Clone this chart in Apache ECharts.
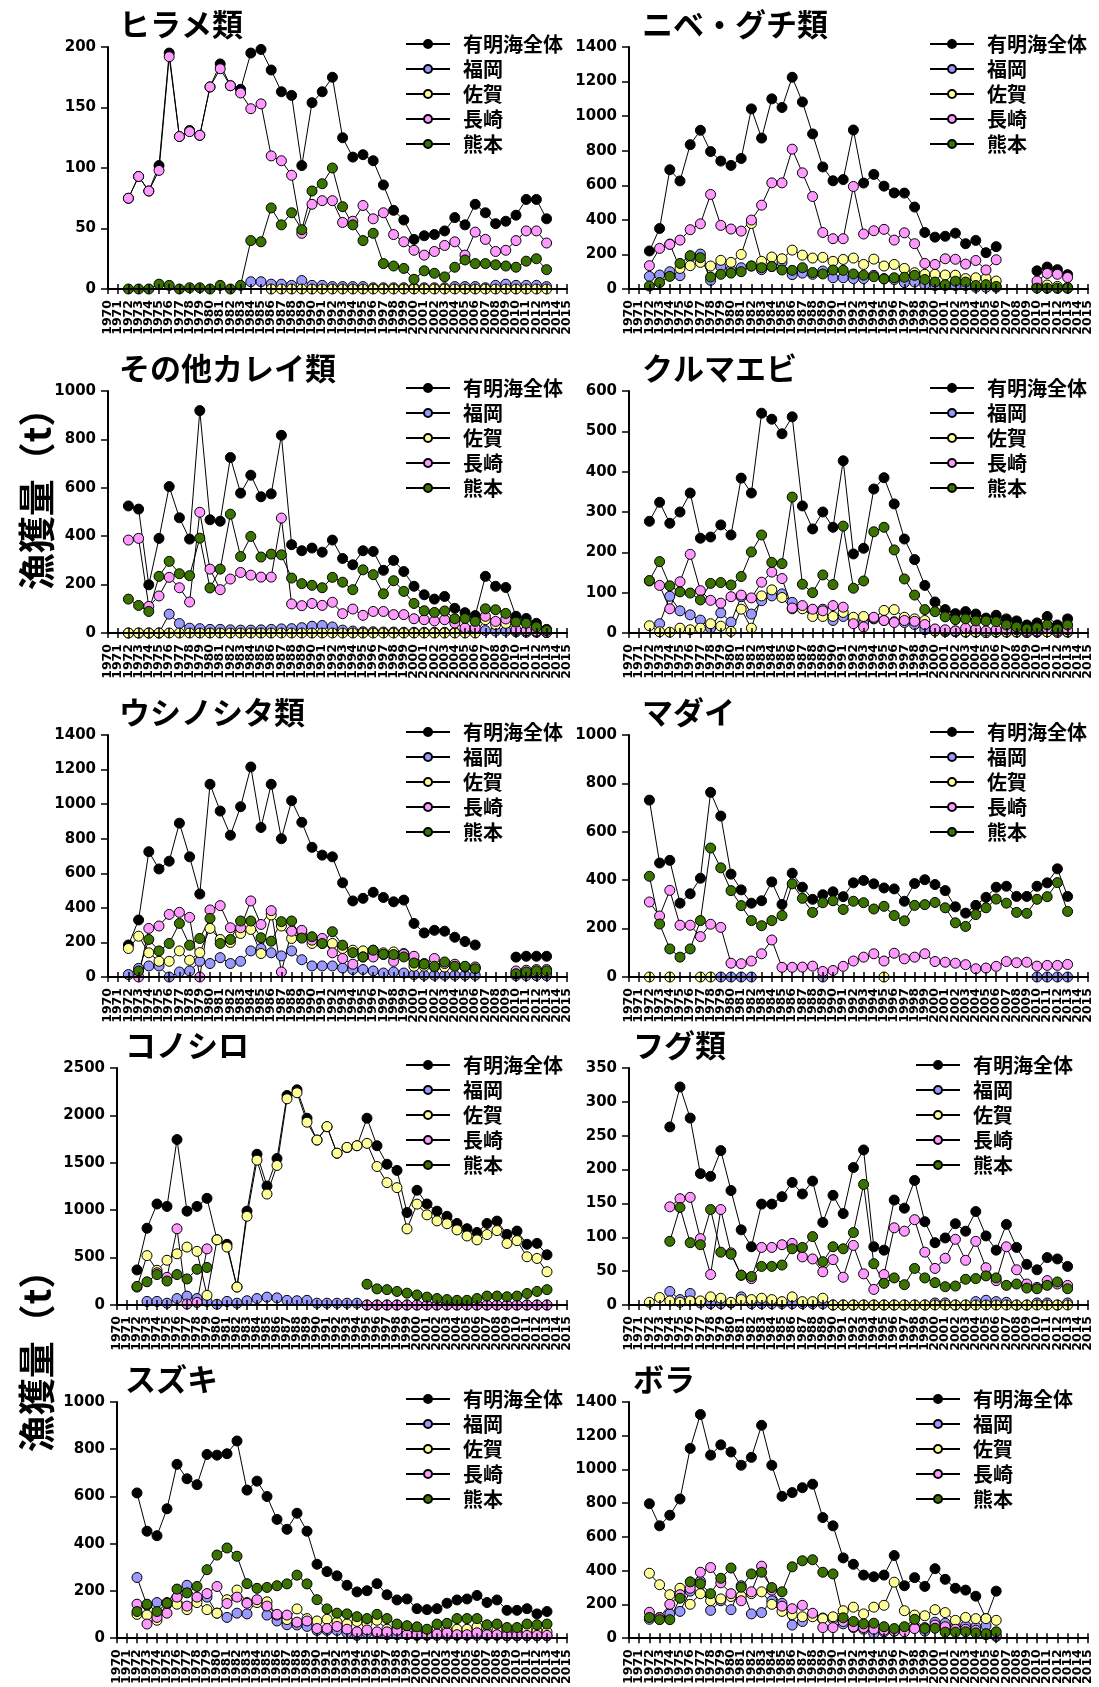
<!DOCTYPE html>
<html><head><meta charset="utf-8">
<script src="https://cdn.jsdelivr.net/npm/echarts@6/dist/echarts.min.js"></script>
<style>html,body{margin:0;padding:0;background:#fff}#c{width:1099px;height:1687px}</style>
</head><body><div id="c"></div>
<script>
const years = ['1970','1971','1972','1973','1974','1975','1976','1977','1978','1979','1980','1981','1982','1983','1984','1985','1986','1987','1988','1989','1990','1991','1992','1993','1994','1995','1996','1997','1998','1999','2000','2001','2002','2003','2004','2005','2006','2007','2008','2009','2010','2011','2012','2013','2014','2015'];
const seriesNames = ['有明海全体','福岡','佐賀','長崎','熊本'];
const N = null;
// values 1972..2013
const hirameTotal = [75,93,81,102,195,126,131,127,167,186,168,165,195,198,181,163,160,102,154,163,175,125,109,111,106,86,65,57,41,44,45,48,59,53,70,63,54,56,61,74,74,58];
const hirameFukuoka = [N,N,N,N,N,N,N,N,N,N,N,N,6,6,4,4,3,7,3,3,2,2,2,2,1,1,1,1,1,1,1,1,2,2,2,1,3,4,3,3,3,2];
const hirameSaga = [N,N,N,N,N,N,N,N,N,N,N,N,N,N,0,0,0,0,0,0,0,0,0,0,0,0,0,0,0,0,0,0,0,0,0,0,0,0,0,0,0,0];
const hirameNagasaki = [75,93,81,98,192,126,130,127,167,182,168,162,149,153,110,106,94,46,70,73,73,55,56,69,58,63,45,39,32,28,31,36,39,28,47,41,31,32,40,48,48,38];
const hirameKumamoto = [0,0,0,4,3,0,1,1,0,3,0,3,40,39,67,53,63,49,81,87,100,68,53,40,46,21,19,17,8,15,13,10,18,24,21,21,20,19,18,23,25,16];

const nibeTotal = [220,350,690,625,835,918,795,740,715,755,1042,873,1100,1050,1225,1082,897,706,626,633,920,613,663,595,556,555,474,327,300,305,323,262,281,210,245,N,N,N,105,127,112,83];
const nibeFukuoka = [73,81,100,77,183,202,50,129,110,123,133,112,130,154,83,92,85,104,65,65,60,60,79,60,55,37,40,25,20,20,20,20,10,10,10,N,N,N,10,5,5,5];
const nibeSaga = [N,N,260,119,135,154,133,166,154,200,379,160,185,175,225,196,179,183,160,171,179,142,173,133,142,119,94,85,85,81,80,60,65,62,46,N,N,N,15,23,15,10];
const nibeNagasaki = [135,235,258,283,343,377,547,368,347,335,399,485,614,614,809,672,535,327,291,291,593,318,337,345,283,325,262,148,142,175,172,144,165,110,169,N,N,N,46,90,85,67];
const nibeKumamoto = [17,37,73,148,193,181,69,85,92,100,133,123,130,110,108,123,95,87,110,108,87,80,71,58,65,68,79,55,40,25,45,40,20,25,15,N,N,N,5,5,5,5];

const kareiTotal = [525,512,199,391,605,476,388,919,468,462,725,578,652,563,575,817,365,340,351,334,384,308,282,340,337,259,300,254,193,158,140,151,102,84,72,234,193,188,69,60,40,15];
const kareiFukuoka = [0,0,0,0,78,39,20,18,15,15,13,12,12,13,15,17,18,22,28,31,25,12,8,5,5,4,4,3,3,3,3,3,3,3,3,10,8,8,5,3,3,2];
const kareiSaga = [0,0,0,0,0,0,0,0,0,0,0,0,0,0,0,0,0,0,0,0,0,0,0,0,0,0,0,0,0,0,0,0,0,0,0,55,35,40,10,8,5,2];
const kareiNagasaki = [384,391,110,153,230,187,128,499,264,179,223,250,239,231,231,475,120,113,122,114,127,80,99,73,89,89,76,76,59,55,50,55,41,21,21,69,48,58,14,10,8,3];
const kareiKumamoto = [140,114,89,234,296,245,237,392,186,264,491,316,399,314,326,323,227,204,197,187,230,210,179,261,241,162,216,172,122,92,85,91,59,60,48,100,96,81,45,40,25,10];

const kurumaTotal = [277,324,272,300,347,235,238,268,243,384,347,545,530,494,536,315,258,300,262,427,196,210,357,385,320,233,182,118,77,58,48,53,47,37,44,35,30,20,25,41,20,35];
const kurumaFukuoka = [N,23,91,55,45,32,12,50,27,90,47,80,92,97,76,62,57,59,31,41,25,25,35,31,28,26,21,8,5,3,3,2,2,1,2,2,2,1,2,3,2,2];
const kurumaSaga = [18,3,2,12,8,12,23,17,4,59,12,92,107,88,60,60,41,41,41,51,39,41,37,56,58,39,35,31,5,5,5,3,3,1,3,3,3,2,3,3,2,3];
const kurumaNagasaki = [129,118,60,127,195,105,81,74,90,94,87,126,151,135,62,68,59,55,68,64,23,15,39,31,26,31,29,21,10,8,5,12,10,5,8,8,8,5,5,12,5,8];
const kurumaKumamoto = [130,177,117,102,99,82,123,125,119,140,201,243,175,172,337,121,100,144,120,265,111,129,251,262,206,134,94,58,53,40,33,35,30,30,28,20,15,10,13,20,10,20];

const ushiTotal = [185,330,725,625,670,890,695,480,1115,960,820,985,1215,865,1115,800,1020,895,750,705,695,545,440,455,490,460,435,445,310,255,270,265,230,205,185,N,N,N,115,120,120,120];
const ushiFukuoka = [14,50,64,64,0,29,35,91,78,112,78,91,151,165,140,122,151,100,64,64,64,52,43,43,35,23,29,23,14,10,10,10,10,10,10,N,N,N,8,8,8,8];
const ushiSaga = [165,236,140,91,91,151,97,141,281,217,200,252,275,136,359,295,223,260,194,194,194,165,155,151,155,140,145,136,62,62,58,58,68,58,52,N,N,N,19,23,23,23];
const ushiNagasaki = [N,0,281,295,362,374,345,0,388,413,285,285,440,304,384,29,265,270,213,223,140,107,74,116,116,130,91,132,120,78,107,78,74,58,58,N,N,N,35,39,43,43];
const ushiKumamoto = [N,35,217,151,194,310,184,223,339,194,217,324,324,227,207,320,324,225,233,194,262,184,141,116,155,132,130,116,81,74,62,87,62,62,48,N,N,N,19,29,35,35];

const madaiTotal = [731,471,482,305,344,408,763,665,425,360,305,315,393,300,429,371,321,340,352,332,389,399,385,368,364,313,386,402,382,357,290,264,296,329,371,375,333,333,375,389,447,333];
const madaiFukuoka = [N,N,N,N,N,N,N,0,0,0,0,N,N,N,N,N,N,0,N,N,N,N,N,N,N,N,N,N,N,N,N,N,N,N,N,N,N,N,0,0,0,0];
const madaiSaga = [0,N,0,N,N,0,0,N,N,N,N,N,N,N,N,N,N,N,N,N,N,N,N,0,N,N,N,N,N,N,N,N,N,N,N,N,N,N,N,N,N,N];
const madaiNagasaki = [310,252,358,214,214,167,218,205,57,55,66,96,153,40,40,41,45,23,27,44,66,82,96,66,98,75,82,96,64,61,57,51,34,37,44,64,59,61,45,48,48,52];
const madaiKumamoto = [416,219,116,82,116,233,533,451,357,295,233,212,233,254,385,325,267,307,315,279,313,307,281,292,254,232,296,299,308,286,224,209,258,286,322,305,267,263,321,332,390,271];

const konoTotal = [370,810,1065,1040,1745,990,1040,1125,690,640,190,990,1590,1255,1545,2210,2270,1970,1740,1880,1600,1660,1680,1970,1680,1485,1420,975,1210,1065,990,935,860,805,765,860,885,745,780,640,650,530];
const konoFukuoka = [N,38,38,19,68,94,68,38,8,38,19,45,68,83,75,49,45,49,19,19,19,19,19,0,0,0,0,0,0,0,0,0,0,0,0,0,0,0,0,0,0,0];
const konoSaga = [189,521,366,472,540,611,566,102,687,611,189,936,1528,1170,1472,2175,2239,1928,1740,1882,1602,1663,1680,1705,1461,1291,1238,803,1064,951,887,857,792,728,687,743,785,649,679,509,491,351];
const konoNagasaki = [N,N,340,291,804,10,27,592,N,N,N,N,N,N,N,N,N,N,N,N,N,N,N,0,0,0,0,0,0,0,0,0,0,0,0,0,0,0,0,0,0,0];
const konoKumamoto = [196,245,321,253,321,275,377,396,N,N,N,N,N,N,N,N,N,N,N,N,N,N,N,219,170,162,143,125,106,83,68,57,49,49,68,94,94,87,94,121,143,162];

const fuguTotal = [N,N,263,322,276,194,190,228,169,111,86,149,149,160,181,164,183,122,162,135,203,229,86,81,155,143,184,123,92,99,120,109,138,102,81,119,85,60,52,70,68,57];
const fuguFukuoka = [N,N,20,8,17,3,2,2,3,12,2,2,2,2,2,2,2,2,0,0,0,0,0,0,0,0,0,0,3,3,0,0,5,7,5,4,0,0,3,3,0,3];
const fuguSaga = [4,11,6,4,6,6,12,10,4,8,8,10,8,5,12,5,5,10,0,0,0,0,0,0,0,0,0,0,0,0,0,0,0,0,0,0,0,0,0,0,0,0];
const fuguNagasaki = [N,N,145,157,159,98,45,141,77,44,39,85,85,89,91,71,68,49,67,41,88,46,23,45,114,109,126,78,54,69,97,66,94,55,36,86,52,31,26,36,31,29];
const fuguKumamoto = [N,N,94,144,92,89,141,78,75,44,42,57,57,59,83,85,101,64,86,83,107,178,61,32,40,30,54,40,33,27,28,38,39,43,40,29,31,25,24,29,34,24];

const suzukiTotal = [615,453,434,548,736,675,650,778,775,781,835,627,665,600,503,461,529,453,313,282,264,224,196,201,231,184,162,166,125,121,125,148,162,166,181,151,162,118,118,125,103,113];
const suzukiFukuoka = [257,140,151,148,174,224,166,174,106,88,106,103,159,98,73,57,56,50,33,33,33,23,12,23,20,15,15,15,12,12,12,12,12,12,12,12,12,10,10,10,10,10];
const suzukiSaga = [101,98,76,151,144,121,151,121,106,163,204,151,151,154,98,79,124,83,73,80,68,60,71,63,76,38,38,33,23,23,33,33,38,38,48,23,33,23,23,33,30,27];
const suzukiNagasaki = [144,60,88,106,174,136,174,189,219,147,174,148,163,136,101,98,68,73,41,41,50,38,27,35,27,27,33,15,15,15,18,23,15,15,23,15,15,12,12,12,12,12];
const suzukiKumamoto = [113,144,113,148,208,192,219,290,352,382,347,231,211,215,222,230,267,230,163,124,106,103,91,83,101,83,60,53,48,38,60,63,83,83,83,57,60,45,45,60,57,60];

const boraTotal = [797,666,729,825,1125,1326,1085,1146,1104,1025,1072,1262,1025,841,863,892,913,715,666,476,438,374,364,374,490,311,359,307,412,349,296,285,249,116,279,N,N,N,N,N,N,N];
const boraFukuoka = [112,123,144,159,279,338,165,222,169,311,144,152,222,207,78,99,142,120,112,85,63,53,27,38,42,53,63,42,95,89,68,74,68,74,10,N,N,N,N,N,N,N];
const boraSaga = [385,317,258,296,201,264,222,233,247,249,264,275,201,159,140,127,127,116,127,163,184,144,184,195,332,163,137,133,169,152,106,123,116,116,106,N,N,N,N,N,N,N];
const boraNagasaki = [154,121,201,258,296,391,419,328,264,222,275,427,285,190,175,195,148,63,63,99,68,63,53,47,42,38,57,63,78,68,53,53,47,21,17,N,N,N,N,N,N,N];
const boraKumamoto = [123,110,110,237,334,323,264,355,416,302,381,391,300,275,423,459,465,391,381,121,99,85,89,68,57,68,112,57,59,36,36,38,32,27,38,N,N,N,N,N,N,N];

const panels = [
  {title:'ヒラメ類', max:200, interval:50, data:[hirameTotal,hirameFukuoka,hirameSaga,hirameNagasaki,hirameKumamoto]},
  {title:'ニベ・グチ類', max:1400, interval:200, data:[nibeTotal,nibeFukuoka,nibeSaga,nibeNagasaki,nibeKumamoto]},
  {title:'その他カレイ類', max:1000, interval:200, data:[kareiTotal,kareiFukuoka,kareiSaga,kareiNagasaki,kareiKumamoto]},
  {title:'クルマエビ', max:600, interval:100, data:[kurumaTotal,kurumaFukuoka,kurumaSaga,kurumaNagasaki,kurumaKumamoto]},
  {title:'ウシノシタ類', max:1400, interval:200, data:[ushiTotal,ushiFukuoka,ushiSaga,ushiNagasaki,ushiKumamoto]},
  {title:'マダイ', max:1000, interval:200, data:[madaiTotal,madaiFukuoka,madaiSaga,madaiNagasaki,madaiKumamoto]},
  {title:'コノシロ', max:2500, interval:500, data:[konoTotal,konoFukuoka,konoSaga,konoNagasaki,konoKumamoto]},
  {title:'フグ類', max:350, interval:50, data:[fuguTotal,fuguFukuoka,fuguSaga,fuguNagasaki,fuguKumamoto]},
  {title:'スズキ', max:1000, interval:200, data:[suzukiTotal,suzukiFukuoka,suzukiSaga,suzukiNagasaki,suzukiKumamoto]},
  {title:'ボラ', max:1400, interval:200, data:[boraTotal,boraFukuoka,boraSaga,boraNagasaki,boraKumamoto]}
];

// layout (pixels)
const layout = [
  {gl:108, gt:47,   gw:459, gh:242, tx:114, lx:400},
  {gl:629, gt:47,   gw:459, gh:242, tx:637, lx:924},
  {gl:108, gt:391,  gw:459, gh:242, tx:114, lx:400},
  {gl:629, gt:391,  gw:459, gh:242, tx:637, lx:924},
  {gl:108, gt:735,  gw:459, gh:242, tx:114, lx:400},
  {gl:629, gt:735,  gw:459, gh:242, tx:637, lx:924},
  {gl:117, gt:1068, gw:450, gh:237, tx:120, lx:400},
  {gl:629, gt:1068, gw:459, gh:237, tx:628, lx:910},
  {gl:117, gt:1402, gw:450, gh:237, tx:120, lx:400},
  {gl:629, gt:1402, gw:459, gh:237, tx:628, lx:910}
];
const fills = ['#000000','#9999ff','#ffff99','#ff99ff','#3b7300'];
const numFont = 'DejaVu Sans';
const jpFont = 'Noto Sans CJK JP';

const pad = a => [null, null].concat(a, [null, null]);

const option = {
  animation:false,
  backgroundColor:'#fff',
  title:[], grid:[], xAxis:[], yAxis:[], series:[], legend:[],
  graphic:[
    {type:'text', x:37, y:490, rotation:Math.PI/2, style:{text:'漁獲量（t）', font:'bold 37px "Noto Sans CJK JP"', fill:'#000', align:'center', verticalAlign:'middle'}},
    {type:'text', x:37, y:1352, rotation:Math.PI/2, style:{text:'漁獲量（t）', font:'bold 37px "Noto Sans CJK JP"', fill:'#000', align:'center', verticalAlign:'middle'}}
  ]
};

panels.forEach((p, i) => {
  const L = layout[i];
  option.grid.push({left:L.gl, top:L.gt, width:L.gw, height:L.gh, containLabel:false});
  option.title.push({text:p.title, left:L.tx, top:L.gt-43, textStyle:{fontFamily:jpFont, fontWeight:'bold', fontSize:31, color:'#000'}});
  option.xAxis.push({
    type:'category', gridIndex:i, data:years, boundaryGap:false, z:10,
    axisLine:{lineStyle:{color:'#000', width:2}},
    axisTick:{show:true, interval:0, length:5, lineStyle:{color:'#000', width:1.5}},
    axisLabel:{interval:0, rotate:90, margin:11, fontSize:12.5, fontWeight:'bold', fontFamily:numFont, color:'#000'},
    splitLine:{show:false}
  });
  option.xAxis.push({
    type:'category', gridIndex:i, data:years, boundaryGap:false, position:'bottom', z:10,
    axisLine:{show:false},
    axisTick:{show:true, inside:true, interval:0, length:5, lineStyle:{color:'#000', width:1.5}},
    axisLabel:{show:false}, splitLine:{show:false}
  });
  option.yAxis.push({
    type:'value', gridIndex:i, min:0, max:p.max, interval:p.interval, z:10,
    axisLine:{show:true, lineStyle:{color:'#000', width:2}},
    axisTick:{show:true, length:7, lineStyle:{color:'#000', width:1.5}},
    axisLabel:{margin:12, fontSize:15, fontWeight:'bold', fontFamily:numFont, color:'#000', formatter: v => String(v)},
    splitLine:{show:false}
  });
  option.legend.push({
    orient:'vertical', left:L.lx, top:L.gt-18, itemWidth:44, itemHeight:10, itemGap:5,
    selectedMode:false, data:seriesNames,
    textStyle:{fontFamily:jpFont, fontWeight:'bold', fontSize:20, lineHeight:20, color:'#000', padding:[0,0,0,8]}
  });
  p.data.forEach((arr, k) => {
    option.series.push({
      type:'line', name:seriesNames[k], xAxisIndex:2*i, yAxisIndex:i, data:pad(arr),
      symbol:'circle', symbolSize:10, showSymbol:true, showAllSymbol:true, connectNulls:false,
      lineStyle:{color:'#000', width:1},
      itemStyle:{color:fills[k], borderColor:'#000', borderWidth:1},
      emphasis:{disabled:true}, silent:true, z:2
    });
  });
});

const chart = echarts.init(document.getElementById('c'), null, {renderer:'canvas', width:1099, height:1687});
chart.setOption(option);
</script>
</body></html>
